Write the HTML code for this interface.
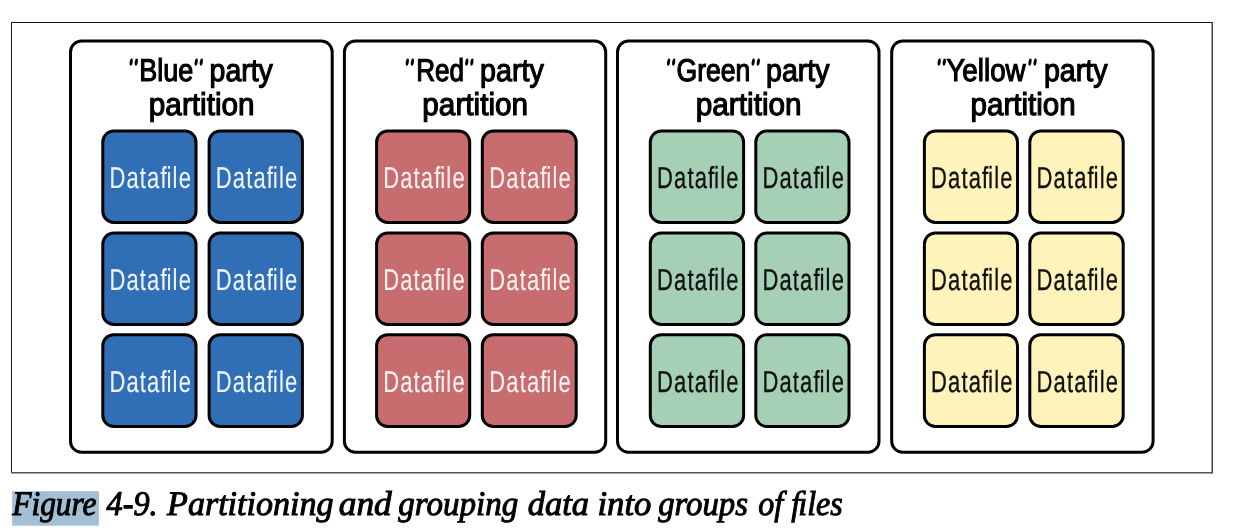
<!DOCTYPE html>
<html><head><meta charset="utf-8">
<style>
html,body{margin:0;padding:0;background:#fff;width:1242px;height:528px;overflow:hidden}
svg{position:absolute;left:0;top:0;will-change:transform}
</style></head><body>
<svg width="1242" height="528" viewBox="0 0 1242 528">
<rect x="11" y="22" width="1202" height="1" fill="#111"/>
<rect x="11" y="22" width="1" height="451" fill="#1a1a1a"/>
<rect x="1211.5" y="22" width="1.5" height="451.5" fill="#444"/>
<rect x="11" y="472" width="1202" height="1.5" fill="#555"/>
<rect x="70.5" y="41.0" width="261.7" height="411.2" rx="11" ry="11" fill="#fff" stroke="#000" stroke-width="3"/>
<g fill="#000"><ellipse cx="131.20" cy="62.1" rx="1.5" ry="3.75" transform="rotate(9 131.20 62.1)"/><ellipse cx="136.30" cy="62.1" rx="1.5" ry="3.75" transform="rotate(9 136.30 62.1)"/></g>
<text transform="translate(139.19 81.00) scale(0.8567 1)" style="font-family:'Liberation Sans',sans-serif;font-size:31.5px;text-rendering:geometricPrecision" fill="#000" stroke="#000" stroke-width="1.2">Blue</text>
<g fill="#000"><ellipse cx="196.20" cy="62.1" rx="1.5" ry="3.75" transform="rotate(9 196.20 62.1)"/><ellipse cx="201.30" cy="62.1" rx="1.5" ry="3.75" transform="rotate(9 201.30 62.1)"/></g>
<text transform="translate(209.60 81.00) scale(0.9029 1)" style="font-family:'Liberation Sans',sans-serif;font-size:31.5px;text-rendering:geometricPrecision" fill="#000" stroke="#000" stroke-width="1.2">party</text>
<text transform="translate(148.86 114.60) scale(0.9427 1)" style="font-family:'Liberation Sans',sans-serif;font-size:31.5px;text-rendering:geometricPrecision" fill="#000" stroke="#000" stroke-width="1.2">partition</text>
<rect x="102.8" y="131.0" width="93.2" height="91.4" rx="11" ry="11" fill="#306fb6" stroke="#000" stroke-width="3"/>
<text transform="translate(109.45 188.30) scale(0.7248 1)" style="font-family:'Liberation Sans',sans-serif;letter-spacing:1.6px;font-size:30.3px;text-rendering:geometricPrecision" fill="#eef3fa" stroke="#eef3fa" stroke-width="0.15">Dataﬁle</text>
<rect x="209.1" y="131.0" width="93.3" height="91.4" rx="11" ry="11" fill="#306fb6" stroke="#000" stroke-width="3"/>
<text transform="translate(215.80 188.30) scale(0.7248 1)" style="font-family:'Liberation Sans',sans-serif;letter-spacing:1.6px;font-size:30.3px;text-rendering:geometricPrecision" fill="#eef3fa" stroke="#eef3fa" stroke-width="0.15">Dataﬁle</text>
<rect x="102.8" y="233.0" width="93.2" height="91.5" rx="11" ry="11" fill="#306fb6" stroke="#000" stroke-width="3"/>
<text transform="translate(109.45 290.30) scale(0.7248 1)" style="font-family:'Liberation Sans',sans-serif;letter-spacing:1.6px;font-size:30.3px;text-rendering:geometricPrecision" fill="#eef3fa" stroke="#eef3fa" stroke-width="0.15">Dataﬁle</text>
<rect x="209.1" y="233.0" width="93.3" height="91.5" rx="11" ry="11" fill="#306fb6" stroke="#000" stroke-width="3"/>
<text transform="translate(215.80 290.30) scale(0.7248 1)" style="font-family:'Liberation Sans',sans-serif;letter-spacing:1.6px;font-size:30.3px;text-rendering:geometricPrecision" fill="#eef3fa" stroke="#eef3fa" stroke-width="0.15">Dataﬁle</text>
<rect x="102.8" y="334.7" width="93.2" height="91.8" rx="11" ry="11" fill="#306fb6" stroke="#000" stroke-width="3"/>
<text transform="translate(109.45 392.00) scale(0.7248 1)" style="font-family:'Liberation Sans',sans-serif;letter-spacing:1.6px;font-size:30.3px;text-rendering:geometricPrecision" fill="#eef3fa" stroke="#eef3fa" stroke-width="0.15">Dataﬁle</text>
<rect x="209.1" y="334.7" width="93.3" height="91.8" rx="11" ry="11" fill="#306fb6" stroke="#000" stroke-width="3"/>
<text transform="translate(215.80 392.00) scale(0.7248 1)" style="font-family:'Liberation Sans',sans-serif;letter-spacing:1.6px;font-size:30.3px;text-rendering:geometricPrecision" fill="#eef3fa" stroke="#eef3fa" stroke-width="0.15">Dataﬁle</text>
<rect x="344.4" y="41.0" width="261.3" height="411.2" rx="11" ry="11" fill="#fff" stroke="#000" stroke-width="3"/>
<g fill="#000"><ellipse cx="407.30" cy="62.1" rx="1.5" ry="3.75" transform="rotate(9 407.30 62.1)"/><ellipse cx="412.40" cy="62.1" rx="1.5" ry="3.75" transform="rotate(9 412.40 62.1)"/></g>
<text transform="translate(416.14 81.00) scale(0.8278 1)" style="font-family:'Liberation Sans',sans-serif;font-size:31.5px;text-rendering:geometricPrecision" fill="#000" stroke="#000" stroke-width="1.2">Red</text>
<g fill="#000"><ellipse cx="466.80" cy="62.1" rx="1.5" ry="3.75" transform="rotate(9 466.80 62.1)"/><ellipse cx="471.90" cy="62.1" rx="1.5" ry="3.75" transform="rotate(9 471.90 62.1)"/></g>
<text transform="translate(480.09 81.00) scale(0.9086 1)" style="font-family:'Liberation Sans',sans-serif;font-size:31.5px;text-rendering:geometricPrecision" fill="#000" stroke="#000" stroke-width="1.2">party</text>
<text transform="translate(422.36 114.60) scale(0.9427 1)" style="font-family:'Liberation Sans',sans-serif;font-size:31.5px;text-rendering:geometricPrecision" fill="#000" stroke="#000" stroke-width="1.2">partition</text>
<rect x="376.6" y="131.0" width="93.1" height="91.4" rx="11" ry="11" fill="#c76d6f" stroke="#000" stroke-width="3"/>
<text transform="translate(383.20 188.30) scale(0.7248 1)" style="font-family:'Liberation Sans',sans-serif;letter-spacing:1.6px;font-size:30.3px;text-rendering:geometricPrecision" fill="#fcf0f0" stroke="#fcf0f0" stroke-width="0.15">Dataﬁle</text>
<rect x="482.3" y="131.0" width="93.9" height="91.4" rx="11" ry="11" fill="#c76d6f" stroke="#000" stroke-width="3"/>
<text transform="translate(489.30 188.30) scale(0.7248 1)" style="font-family:'Liberation Sans',sans-serif;letter-spacing:1.6px;font-size:30.3px;text-rendering:geometricPrecision" fill="#fcf0f0" stroke="#fcf0f0" stroke-width="0.15">Dataﬁle</text>
<rect x="376.6" y="233.0" width="93.1" height="91.5" rx="11" ry="11" fill="#c76d6f" stroke="#000" stroke-width="3"/>
<text transform="translate(383.20 290.30) scale(0.7248 1)" style="font-family:'Liberation Sans',sans-serif;letter-spacing:1.6px;font-size:30.3px;text-rendering:geometricPrecision" fill="#fcf0f0" stroke="#fcf0f0" stroke-width="0.15">Dataﬁle</text>
<rect x="482.3" y="233.0" width="93.9" height="91.5" rx="11" ry="11" fill="#c76d6f" stroke="#000" stroke-width="3"/>
<text transform="translate(489.30 290.30) scale(0.7248 1)" style="font-family:'Liberation Sans',sans-serif;letter-spacing:1.6px;font-size:30.3px;text-rendering:geometricPrecision" fill="#fcf0f0" stroke="#fcf0f0" stroke-width="0.15">Dataﬁle</text>
<rect x="376.6" y="334.7" width="93.1" height="91.8" rx="11" ry="11" fill="#c76d6f" stroke="#000" stroke-width="3"/>
<text transform="translate(383.20 392.00) scale(0.7248 1)" style="font-family:'Liberation Sans',sans-serif;letter-spacing:1.6px;font-size:30.3px;text-rendering:geometricPrecision" fill="#fcf0f0" stroke="#fcf0f0" stroke-width="0.15">Dataﬁle</text>
<rect x="482.3" y="334.7" width="93.9" height="91.8" rx="11" ry="11" fill="#c76d6f" stroke="#000" stroke-width="3"/>
<text transform="translate(489.30 392.00) scale(0.7248 1)" style="font-family:'Liberation Sans',sans-serif;letter-spacing:1.6px;font-size:30.3px;text-rendering:geometricPrecision" fill="#fcf0f0" stroke="#fcf0f0" stroke-width="0.15">Dataﬁle</text>
<rect x="617.5" y="41.0" width="261.5" height="411.2" rx="11" ry="11" fill="#fff" stroke="#000" stroke-width="3"/>
<g fill="#000"><ellipse cx="668.60" cy="62.1" rx="1.5" ry="3.75" transform="rotate(9 668.60 62.1)"/><ellipse cx="673.70" cy="62.1" rx="1.5" ry="3.75" transform="rotate(9 673.70 62.1)"/></g>
<text transform="translate(676.46 81.00) scale(0.8435 1)" style="font-family:'Liberation Sans',sans-serif;font-size:31.5px;text-rendering:geometricPrecision" fill="#000" stroke="#000" stroke-width="1.2">Green</text>
<g fill="#000"><ellipse cx="753.20" cy="62.1" rx="1.5" ry="3.75" transform="rotate(9 753.20 62.1)"/><ellipse cx="758.30" cy="62.1" rx="1.5" ry="3.75" transform="rotate(9 758.30 62.1)"/></g>
<text transform="translate(766.10 81.00) scale(0.9043 1)" style="font-family:'Liberation Sans',sans-serif;font-size:31.5px;text-rendering:geometricPrecision" fill="#000" stroke="#000" stroke-width="1.2">party</text>
<text transform="translate(695.76 114.60) scale(0.9445 1)" style="font-family:'Liberation Sans',sans-serif;font-size:31.5px;text-rendering:geometricPrecision" fill="#000" stroke="#000" stroke-width="1.2">partition</text>
<rect x="650.3" y="131.0" width="93.3" height="91.4" rx="11" ry="11" fill="#a5d0b6" stroke="#000" stroke-width="3"/>
<text transform="translate(657.00 188.30) scale(0.7248 1)" style="font-family:'Liberation Sans',sans-serif;letter-spacing:1.6px;font-size:30.3px;text-rendering:geometricPrecision" fill="#111" stroke="#111" stroke-width="0.35">Dataﬁle</text>
<rect x="755.8" y="131.0" width="93.2" height="91.4" rx="11" ry="11" fill="#a5d0b6" stroke="#000" stroke-width="3"/>
<text transform="translate(762.45 188.30) scale(0.7248 1)" style="font-family:'Liberation Sans',sans-serif;letter-spacing:1.6px;font-size:30.3px;text-rendering:geometricPrecision" fill="#111" stroke="#111" stroke-width="0.35">Dataﬁle</text>
<rect x="650.3" y="233.0" width="93.3" height="91.5" rx="11" ry="11" fill="#a5d0b6" stroke="#000" stroke-width="3"/>
<text transform="translate(657.00 290.30) scale(0.7248 1)" style="font-family:'Liberation Sans',sans-serif;letter-spacing:1.6px;font-size:30.3px;text-rendering:geometricPrecision" fill="#111" stroke="#111" stroke-width="0.35">Dataﬁle</text>
<rect x="755.8" y="233.0" width="93.2" height="91.5" rx="11" ry="11" fill="#a5d0b6" stroke="#000" stroke-width="3"/>
<text transform="translate(762.45 290.30) scale(0.7248 1)" style="font-family:'Liberation Sans',sans-serif;letter-spacing:1.6px;font-size:30.3px;text-rendering:geometricPrecision" fill="#111" stroke="#111" stroke-width="0.35">Dataﬁle</text>
<rect x="650.3" y="334.7" width="93.3" height="91.8" rx="11" ry="11" fill="#a5d0b6" stroke="#000" stroke-width="3"/>
<text transform="translate(657.00 392.00) scale(0.7248 1)" style="font-family:'Liberation Sans',sans-serif;letter-spacing:1.6px;font-size:30.3px;text-rendering:geometricPrecision" fill="#111" stroke="#111" stroke-width="0.35">Dataﬁle</text>
<rect x="755.8" y="334.7" width="93.2" height="91.8" rx="11" ry="11" fill="#a5d0b6" stroke="#000" stroke-width="3"/>
<text transform="translate(762.45 392.00) scale(0.7248 1)" style="font-family:'Liberation Sans',sans-serif;letter-spacing:1.6px;font-size:30.3px;text-rendering:geometricPrecision" fill="#111" stroke="#111" stroke-width="0.35">Dataﬁle</text>
<rect x="891.7" y="41.0" width="261.4" height="411.2" rx="11" ry="11" fill="#fff" stroke="#000" stroke-width="3"/>
<g fill="#000"><ellipse cx="939.20" cy="62.1" rx="1.5" ry="3.75" transform="rotate(9 939.20 62.1)"/><ellipse cx="944.30" cy="62.1" rx="1.5" ry="3.75" transform="rotate(9 944.30 62.1)"/></g>
<text transform="translate(946.40 81.00) scale(0.8813 1)" style="font-family:'Liberation Sans',sans-serif;font-size:31.5px;text-rendering:geometricPrecision" fill="#000" stroke="#000" stroke-width="1.2">Yellow</text>
<g fill="#000"><ellipse cx="1030.00" cy="62.1" rx="1.5" ry="3.75" transform="rotate(9 1030.00 62.1)"/><ellipse cx="1035.10" cy="62.1" rx="1.5" ry="3.75" transform="rotate(9 1035.10 62.1)"/></g>
<text transform="translate(1043.89 81.00) scale(0.9086 1)" style="font-family:'Liberation Sans',sans-serif;font-size:31.5px;text-rendering:geometricPrecision" fill="#000" stroke="#000" stroke-width="1.2">party</text>
<text transform="translate(970.56 114.60) scale(0.9373 1)" style="font-family:'Liberation Sans',sans-serif;font-size:31.5px;text-rendering:geometricPrecision" fill="#000" stroke="#000" stroke-width="1.2">partition</text>
<rect x="924.4" y="131.0" width="93.1" height="91.4" rx="11" ry="11" fill="#fdf3bb" stroke="#000" stroke-width="3"/>
<text transform="translate(931.00 188.30) scale(0.7248 1)" style="font-family:'Liberation Sans',sans-serif;letter-spacing:1.6px;font-size:30.3px;text-rendering:geometricPrecision" fill="#111" stroke="#111" stroke-width="0.35">Dataﬁle</text>
<rect x="1029.8" y="131.0" width="93.4" height="91.4" rx="11" ry="11" fill="#fdf3bb" stroke="#000" stroke-width="3"/>
<text transform="translate(1036.55 188.30) scale(0.7248 1)" style="font-family:'Liberation Sans',sans-serif;letter-spacing:1.6px;font-size:30.3px;text-rendering:geometricPrecision" fill="#111" stroke="#111" stroke-width="0.35">Dataﬁle</text>
<rect x="924.4" y="233.0" width="93.1" height="91.5" rx="11" ry="11" fill="#fdf3bb" stroke="#000" stroke-width="3"/>
<text transform="translate(931.00 290.30) scale(0.7248 1)" style="font-family:'Liberation Sans',sans-serif;letter-spacing:1.6px;font-size:30.3px;text-rendering:geometricPrecision" fill="#111" stroke="#111" stroke-width="0.35">Dataﬁle</text>
<rect x="1029.8" y="233.0" width="93.4" height="91.5" rx="11" ry="11" fill="#fdf3bb" stroke="#000" stroke-width="3"/>
<text transform="translate(1036.55 290.30) scale(0.7248 1)" style="font-family:'Liberation Sans',sans-serif;letter-spacing:1.6px;font-size:30.3px;text-rendering:geometricPrecision" fill="#111" stroke="#111" stroke-width="0.35">Dataﬁle</text>
<rect x="924.4" y="334.7" width="93.1" height="91.8" rx="11" ry="11" fill="#fdf3bb" stroke="#000" stroke-width="3"/>
<text transform="translate(931.00 392.00) scale(0.7248 1)" style="font-family:'Liberation Sans',sans-serif;letter-spacing:1.6px;font-size:30.3px;text-rendering:geometricPrecision" fill="#111" stroke="#111" stroke-width="0.35">Dataﬁle</text>
<rect x="1029.8" y="334.7" width="93.4" height="91.8" rx="11" ry="11" fill="#fdf3bb" stroke="#000" stroke-width="3"/>
<text transform="translate(1036.55 392.00) scale(0.7248 1)" style="font-family:'Liberation Sans',sans-serif;letter-spacing:1.6px;font-size:30.3px;text-rendering:geometricPrecision" fill="#111" stroke="#111" stroke-width="0.35">Dataﬁle</text>
<rect x="12.2" y="491.2" width="86.7" height="34.5" fill="#a2bfd8"/>
<text transform="translate(12.21 514.80) scale(0.9108 1)" style="font-family:'Liberation Serif',serif;font-style:italic;font-size:34.5px;text-rendering:geometricPrecision" fill="#000" stroke="#000" stroke-width="1.0">Figure</text>
<text transform="translate(106.54 514.80) scale(0.9358 1)" style="font-family:'Liberation Serif',serif;font-style:italic;font-size:34.5px;text-rendering:geometricPrecision" fill="#000" stroke="#000" stroke-width="1.0">4-9.</text>
<text transform="translate(167.09 514.80) scale(0.9864 1)" style="font-family:'Liberation Serif',serif;font-style:italic;font-size:34.5px;text-rendering:geometricPrecision" fill="#000" stroke="#000" stroke-width="1.0">Partitioning</text>
<text transform="translate(338.70 514.80) scale(1.0250 1)" style="font-family:'Liberation Serif',serif;font-style:italic;font-size:34.5px;text-rendering:geometricPrecision" fill="#000" stroke="#000" stroke-width="1.0">and</text>
<text transform="translate(398.36 514.80) scale(0.9571 1)" style="font-family:'Liberation Serif',serif;font-style:italic;font-size:34.5px;text-rendering:geometricPrecision" fill="#000" stroke="#000" stroke-width="1.0">grouping</text>
<text transform="translate(527.80 514.80) scale(0.9984 1)" style="font-family:'Liberation Serif',serif;font-style:italic;font-size:34.5px;text-rendering:geometricPrecision" fill="#000" stroke="#000" stroke-width="1.0">data</text>
<text transform="translate(597.50 514.80) scale(1.0038 1)" style="font-family:'Liberation Serif',serif;font-style:italic;font-size:34.5px;text-rendering:geometricPrecision" fill="#000" stroke="#000" stroke-width="1.0">into</text>
<text transform="translate(658.15 514.80) scale(0.9495 1)" style="font-family:'Liberation Serif',serif;font-style:italic;font-size:34.5px;text-rendering:geometricPrecision" fill="#000" stroke="#000" stroke-width="1.0">groups</text>
<text transform="translate(758.20 514.80) scale(0.9286 1)" style="font-family:'Liberation Serif',serif;font-style:italic;font-size:34.5px;text-rendering:geometricPrecision" fill="#000" stroke="#000" stroke-width="1.0">of ﬁles</text>
</svg>
</body></html>
